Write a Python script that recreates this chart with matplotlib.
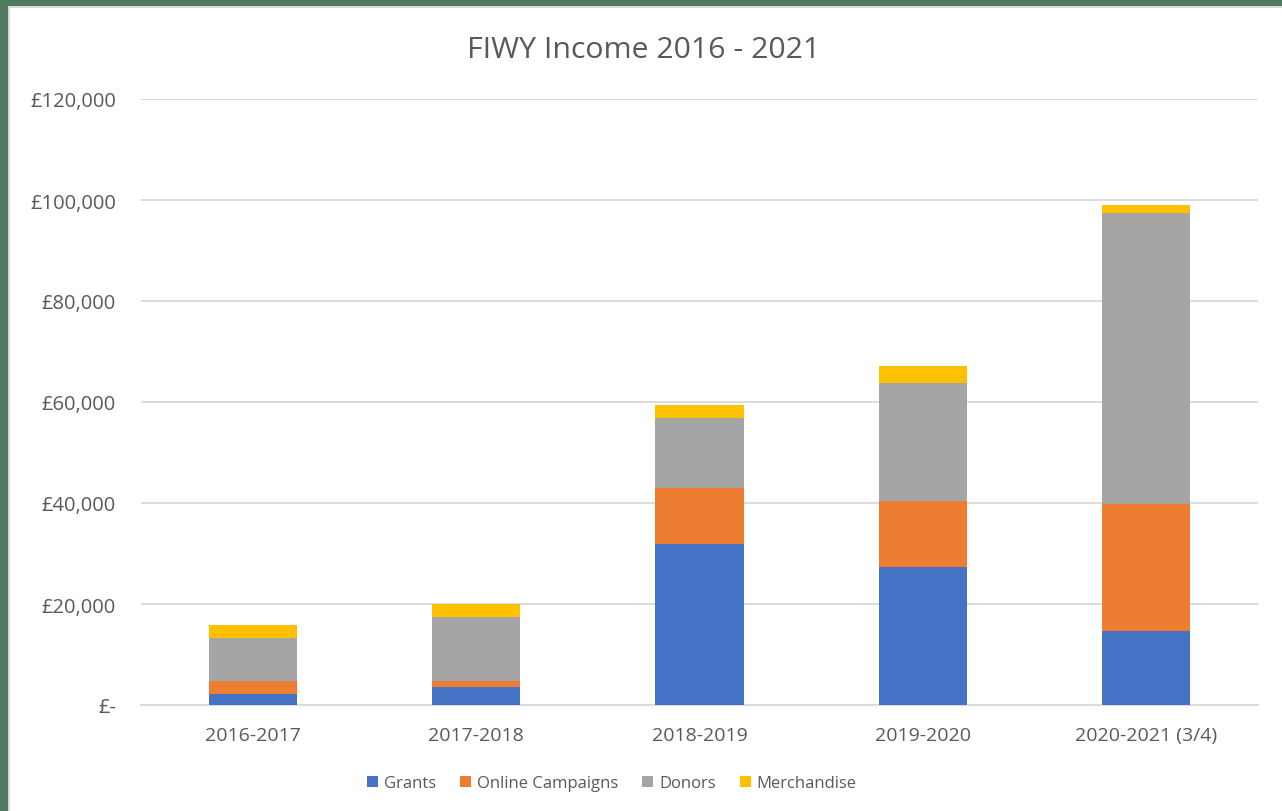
import matplotlib

matplotlib.use("Agg")

import matplotlib.pyplot as plt
import numpy as np
from matplotlib.patches import Patch, Rectangle
from matplotlib.ticker import FuncFormatter

plt.rcParams["font.family"] = ["Open Sans", "DejaVu Sans"]

years = ["2016-2017", "2017-2018", "2018-2019", "2019-2020", "2020-2021 (3/4)"]
grants = [2200, 3600, 31900, 27300, 14600]
online_campaigns = [2550, 1150, 11100, 13100, 25200]
donors = [8450, 12650, 13800, 23300, 57600]
merchandise = [2650, 2600, 2600, 3400, 1600]

series = [
    ("Grants", grants, "#4472C4"),
    ("Online Campaigns", online_campaigns, "#ED7D31"),
    ("Donors", donors, "#A5A5A5"),
    ("Merchandise", merchandise, "#FFC000"),
]

text_color = "#595959"
grid_color = "#D9D9D9"


def pound_format(value, _pos):
    if value == 0:
        return "£-"
    return f"£{value:,.0f}"


fig = plt.figure(figsize=(12.82, 8.12), dpi=100)
fig.patch.set_facecolor("white")

# green frame on left/top edge, light border inside it
fig.patches.append(Rectangle((0, 0), 8 / 1282, 1, transform=fig.transFigure,
                             facecolor="#4E7B60", edgecolor="none", zorder=0))
fig.patches.append(Rectangle((0, 1 - 7 / 812), 1, 7 / 812, transform=fig.transFigure,
                             facecolor="#4E7B60", edgecolor="none", zorder=0))
fig.patches.append(Rectangle((8 / 1282, 0), 2 / 1282, 1 - 7 / 812, transform=fig.transFigure,
                             facecolor="#D9D9D9", edgecolor="none", zorder=0))
fig.patches.append(Rectangle((8 / 1282, 1 - 9 / 812), 1, 2 / 812, transform=fig.transFigure,
                             facecolor="#D9D9D9", edgecolor="none", zorder=0))

ax = fig.add_axes([141 / 1282, 106 / 812, (1258 - 141) / 1282, (706 - 100) / 812])

x = np.arange(len(years))
bottom = np.zeros(len(years))
handles = []
for label, values, color in series:
    values = np.asarray(values, dtype=float)
    ax.bar(x, values, width=0.395, bottom=bottom, color=color, zorder=3,
           edgecolor="none")
    bottom += values
    handles.append(Patch(facecolor=color, label=label))

ax.set_xlim(-0.5, len(years) - 0.5)
ax.set_ylim(0, 120000)
ax.set_yticks(np.arange(0, 120001, 20000))
ax.yaxis.set_major_formatter(FuncFormatter(pound_format))
ax.set_xticks(x)
ax.set_xticklabels(years)

ax.grid(axis="y", color=grid_color, linewidth=1.3, zorder=0)
for name, spine in ax.spines.items():
    spine.set_visible(name == "bottom")
ax.spines["bottom"].set_color(grid_color)
ax.spines["bottom"].set_linewidth(1.3)
ax.tick_params(axis="both", length=0, colors=text_color)
ax.tick_params(axis="y", labelsize=14.5, pad=18)
ax.tick_params(axis="x", labelsize=14, pad=15)

fig.text(644 / 1282, 1 - 50 / 812, "FIWY Income 2016 - 2021", ha="center",
         va="center", fontsize=21.8, color=text_color)

fig.legend(handles=handles, loc="center", bbox_to_anchor=(612 / 1282, 1 - 784 / 812),
           ncol=4, frameon=False, fontsize=12, labelcolor=text_color,
           handlelength=0.65, handleheight=0.65, handletextpad=0.35, columnspacing=1.45)

fig.savefig("out.png", dpi=100)
